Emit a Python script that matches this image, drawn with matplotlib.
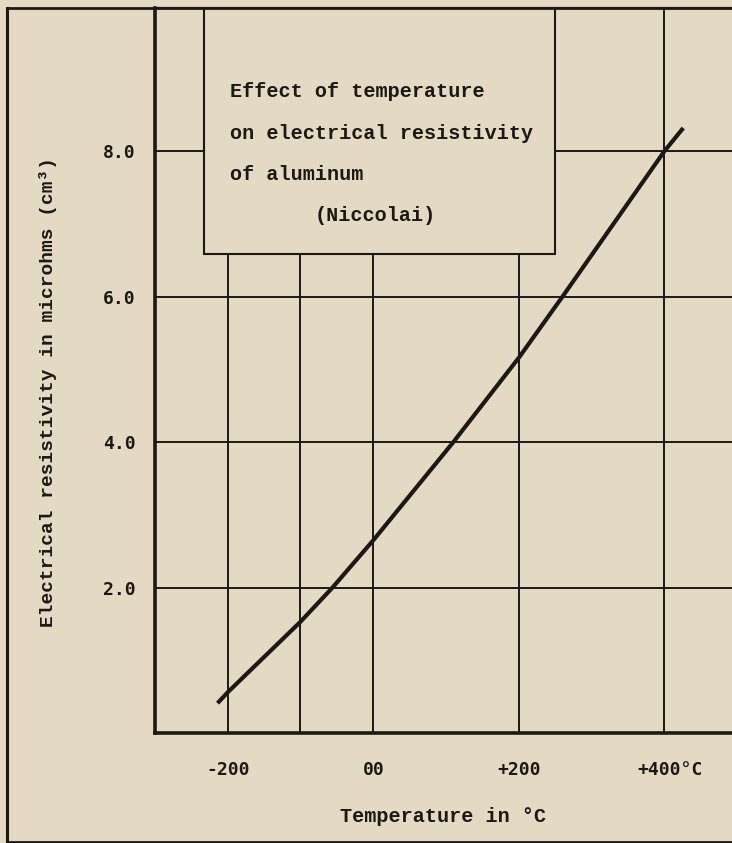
import matplotlib
matplotlib.use("Agg")
import matplotlib.pyplot as plt
from matplotlib.patches import Rectangle
from matplotlib.lines import Line2D
from matplotlib.transforms import ScaledTranslation

# ======================
# DATA
# ======================
temp_c = [-214, -200, -100, -56, 0, 110, 200, 260, 400, 426]
resistivity = [0.41, 0.56, 1.53, 2.0, 2.65, 4.0, 5.16, 6.0, 8.0, 8.32]

x_ticks = [-200, 0, 200, 400]
x_tick_labels = ["-200", "00", "+200", "+400°C"]
x_minor = [-100]
y_ticks = [2, 4, 6, 8]
y_tick_labels = ["2.0", "4.0", "6.0", "8.0"]

box_lines = ["Effect of temperature", "on electrical resistivity", "of aluminum"]
box_source = "(Niccolai)"

# ======================
# STYLE
# ======================
paper = "#e4dac3"
ink = "#1c1814"
serif_mono = ["Liberation Mono", "DejaVu Sans Mono"]
sans_mono = ["DejaVu Sans Mono"]

fig = plt.figure(figsize=(7.32, 8.43), dpi=100, facecolor=paper)
ax = fig.add_axes([0.2117, 0.1305, 0.7883, 0.86], facecolor=paper)

ax.set_xlim(-300, 493)
ax.set_ylim(0, 9.97)

# ======================
# CURVE
# ======================
ax.plot(temp_c, resistivity, color=ink, lw=3.0, solid_capstyle="butt",
        solid_joinstyle="round", zorder=4)

# ======================
# AXES / GRID
# ======================
ax.set_xticks(x_ticks)
ax.set_xticklabels(x_tick_labels, family=sans_mono, fontweight="bold", fontsize=13, color=ink)
ax.set_xticks(x_minor, minor=True)
ax.set_yticks(y_ticks)
ax.set_yticklabels(y_tick_labels, family=sans_mono, fontweight="bold", fontsize=13, color=ink)
ax.tick_params(which="both", length=0)
ax.tick_params(axis="x", pad=20)
ax.tick_params(axis="y", pad=14)
ax.grid(which="both", color=ink, lw=1.4)
ax.set_axisbelow(True)

# "+400" centred on its grid line, "°C" hanging to the right
last = ax.get_xticklabels()[-1]
last.set_ha("left")
last.set_transform(last.get_transform() + ScaledTranslation(-0.27, 0, fig.dpi_scale_trans))

for side in ["left", "bottom"]:
    ax.spines[side].set_linewidth(2.6)
    ax.spines[side].set_color(ink)
ax.spines["top"].set_linewidth(1.6)
ax.spines["top"].set_color(ink)
ax.spines["right"].set_visible(False)

ax.set_xlabel("Temperature in °C", family=serif_mono, fontweight="bold", fontsize=14.5, color=ink)
ax.xaxis.set_label_coords(0.5, -0.102)
ax.set_ylabel("Electrical resistivity in microhms (cm³)", family=serif_mono,
              fontweight="bold", fontsize=14, color=ink)
ax.yaxis.set_label_coords(-0.17, 0.47)

# ======================
# TITLE BOX
# ======================
box = Rectangle((-232, 6.59), 482, 3.6, facecolor=paper, edgecolor=ink, lw=1.5, zorder=3)
ax.add_patch(box)
for i, line in enumerate(box_lines):
    ax.text(-197, 8.82 - i * 0.57, line, family=serif_mono, fontweight="bold",
            fontsize=14.5, color=ink, va="center", ha="left", zorder=5)
ax.text(3, 8.82 - 3 * 0.57, box_source, family=serif_mono, fontweight="bold",
        fontsize=14.5, color=ink, va="center", ha="center", zorder=5)

# ======================
# OUTER FRAME
# ======================
fx0 = 7 / 732
fig.add_artist(Line2D([fx0, fx0], [1 / 843, 1 - 8 / 843], color=ink, lw=2.2))
fig.add_artist(Line2D([fx0, 1], [1 - 8 / 843, 1 - 8 / 843], color=ink, lw=2.0))
fig.add_artist(Line2D([fx0, 1], [1.5 / 843, 1.5 / 843], color=ink, lw=2.0))

fig.savefig("out.png", dpi=100, facecolor=paper)
